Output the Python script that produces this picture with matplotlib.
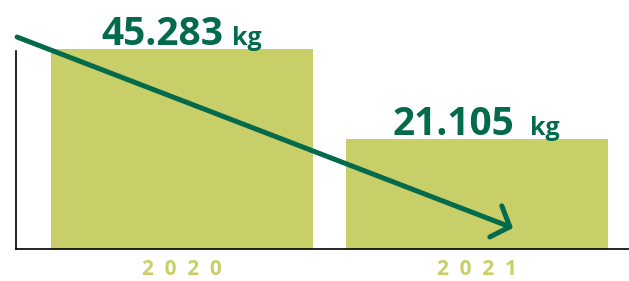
import matplotlib.pyplot as plt
import numpy as np

years = ['2020', '2021']
values = [45.283, 21.105]
value_labels = ['45.283', '21.105']
unit = 'kg'

dark_green = '#036b4c'
olive = '#c8cf69'

# axis baseline sits below zero, so the bars aren't strictly proportional
base = -8.45

fig = plt.figure(figsize=(6.29, 2.81), dpi=100)
ax = fig.add_axes([16 / 629, 32 / 281, 613 / 629, 198 / 281])

x = np.arange(len(years))
heights = np.array(values) - base
ax.bar(x, heights, bottom=base, width=0.888, color=olive, clip_on=False, zorder=2)

ax.set_xlim(-0.5627, 1.5153)
ax.set_ylim(base, 44.745)

for s in ['top', 'right']:
    ax.spines[s].set_visible(False)
for s in ['left', 'bottom']:
    ax.spines[s].set_linewidth(1.2)
    ax.spines[s].set_color('black')
    ax.spines[s].set_zorder(3)

ax.set_yticks([])
ax.set_xticks(x)
ax.set_xticklabels(['  '.join(y) for y in years], fontsize=15, fontweight='bold',
                   color=olive, family='Open Sans')
ax.tick_params(axis='x', length=0, pad=7)

gaps = [(30, 6), (27, 11)]
for xi, v, lab, (dn, dk) in zip(x, values, value_labels, gaps):
    ax.annotate(lab, (xi, v), xytext=(dn, 3), textcoords='offset points',
                ha='right', va='baseline', fontsize=28, fontweight='bold',
                color=dark_green, family='Open Sans', annotation_clip=False)
    ax.annotate(unit, (xi, v), xytext=(dn + dk, 3), textcoords='offset points',
                ha='left', va='baseline', fontsize=18, fontweight='bold',
                color=dark_green, family='Open Sans', annotation_clip=False)

# trend arrow
ax.annotate('', xy=(1.122, -2.81), xytext=(-0.559, 48.5),
            arrowprops=dict(arrowstyle='->,head_length=0.9,head_width=1.0',
                            color=dark_green, lw=3.6, mutation_scale=12,
                            capstyle='round', joinstyle='round',
                            shrinkA=0, shrinkB=0),
            annotation_clip=False, zorder=4)

plt.savefig('out.png', dpi=100)
